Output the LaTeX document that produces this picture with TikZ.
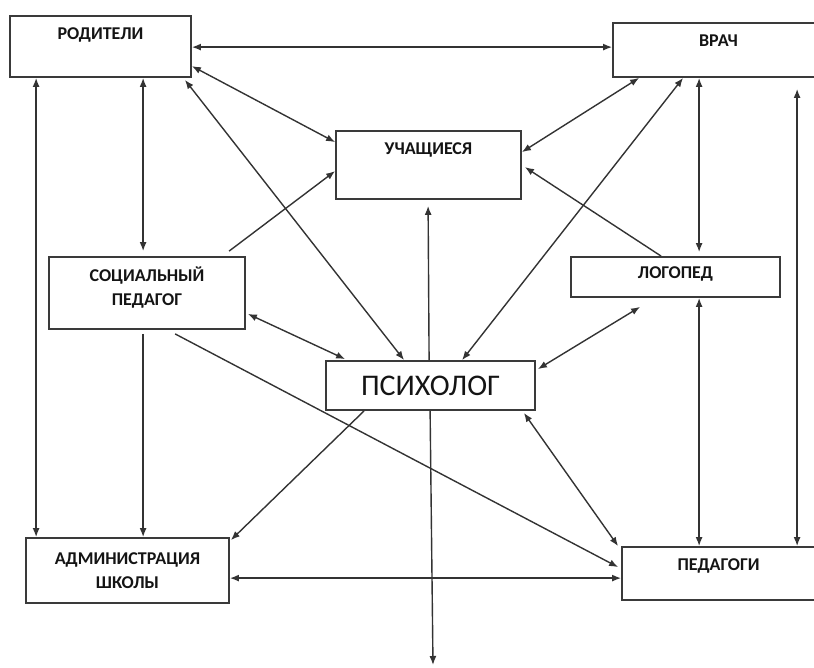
\documentclass[tikz,border=0pt]{standalone}
\usepackage{fontspec}
\setmainfont{Carlito}
\usetikzlibrary{arrows.meta,calc}
\definecolor{linec}{HTML}{333333}
\definecolor{boxc}{HTML}{3A3A3A}
\definecolor{txtc}{HTML}{141414}
\begin{document}
\begin{tikzpicture}[x=1pt,y=-1pt,
  box/.style={draw=boxc, line width=1.8pt, fill=white, rectangle, inner sep=0pt},
  lbl/.style={anchor=north, inner sep=0pt, text height=12pt, text=txtc,
     font=\fontsize{18}{24}\selectfont\bfseries},
  lbltwo/.style={anchor=north, inner sep=0pt, align=center, text=txtc,
     font=\fontsize{18}{24}\selectfont\bfseries},
  both/.style={draw=linec, line width=1.4pt, {Latex[length=9pt,width=7pt]}-{Latex[length=9pt,width=7pt]}},
  onew/.style={draw=linec, line width=1.4pt, -{Latex[length=9pt,width=7pt]}}]
\useasboundingbox (0,0) rectangle (814,668);
% boxes
\node[box, minimum width=181pt, minimum height=61pt,
  label={[lbl, yshift=-12pt]north:РОДИТЕЛИ}] (rod) at (100.5,46.5) {};
\node[box, minimum width=211pt, minimum height=54pt,
  label={[lbl, yshift=-12pt]north:ВРАЧ}] (vrach) at (718.5,50) {};
\node[box, minimum width=185pt, minimum height=68pt,
  label={[lbl, yshift=-12pt]north:УЧАЩИЕСЯ}] (uch) at (428.5,165) {};
\node[box, minimum width=196pt, minimum height=72pt,
  label={[lbltwo, yshift=-10pt]north:СОЦИАЛЬНЫЙ\\ПЕДАГОГ}] (soc) at (147,293) {};
\node[box, minimum width=209pt, minimum height=40pt,
  label={[lbl, yshift=-10pt]north:ЛОГОПЕД}] (log) at (675.5,277) {};
\node[box, minimum width=209pt, minimum height=49pt,
  font=\fontsize{30}{34}\selectfont, text=txtc] (psy) at (430.5,385.5) {ПСИХОЛОГ};
\node[box, minimum width=203pt, minimum height=65pt,
  label={[lbltwo, yshift=-15pt]north:АДМИНИСТРАЦИЯ\\ШКОЛЫ}] (adm) at (127.5,570.5) {};
\node[box, minimum width=193pt, minimum height=53pt,
  label={[lbl, yshift=-12pt]north:ПЕДАГОГИ}] (ped) at (718.5,573.5) {};
\coordinate (down) at (433,665);
% connectors
\draw[both] ($(rod.north east)+(0,32)$) -- ($(vrach.north west)+(0,25)$);
\draw[both] ($(rod.north east)+(0,51)$) -- ($(uch.north west)+(0,12)$);
\draw[both] ($(rod.south east)+(-7,2)$) -- ($(psy.north west)+(79,0)$);
\draw[both] ($(rod.south west)+(27,0)$) -- ($(adm.north west)+(11,0)$);
\draw[both] ($(rod.south west)+(134,0)$) -- ($(soc.north west)+(95,-5)$);
\draw[both] ($(vrach.south west)+(27,0)$) -- ($(uch.north east)+(0,22)$);
\draw[both] ($(vrach.south west)+(71,0)$) -- ($(psy.north west)+(137,0)$);
\draw[both] ($(vrach.south west)+(87,0)$) -- ($(log.north west)+(129,-4)$);
\draw[both] ($(vrach.south west)+(185,11)$) -- ($(ped.north west)+(176,0)$);
\draw[onew] ($(log.north west)+(91,0)$) -- ($(uch.north east)+(3,37)$);
\draw[onew] ($(soc.north west)+(181,-5)$) -- ($(uch.north west)+(0,41)$);
\draw[onew] ($(psy.north west)+(104,0)$) -- ($(uch.south west)+(93,6)$);
\draw[onew] ($(psy.south west)+(105,0)$) -- (down);
\draw[both] ($(soc.south east)+(2,-16)$) -- ($(psy.north west)+(20,-1)$);
\draw[onew] ($(soc.south west)+(127,4)$) -- ($(ped.north west)+(-3,21)$);
\draw[onew] ($(soc.south west)+(95,4)$) -- ($(adm.north west)+(118,0)$);
\draw[onew] ($(psy.south west)+(39,0)$) -- ($(adm.north east)+(1,3)$);
\draw[both] ($(log.south west)+(70,9)$) -- ($(psy.north east)+(2,9)$);
\draw[both] ($(log.south west)+(129,0)$) -- ($(ped.north west)+(78,0)$);
\draw[both] ($(psy.south east)+(-12,2)$) -- ($(ped.north west)+(-3,0)$);
\draw[both] ($(adm.north east)+(0,41)$) -- ($(ped.north west)+(0,32)$);
\end{tikzpicture}
\end{document}
